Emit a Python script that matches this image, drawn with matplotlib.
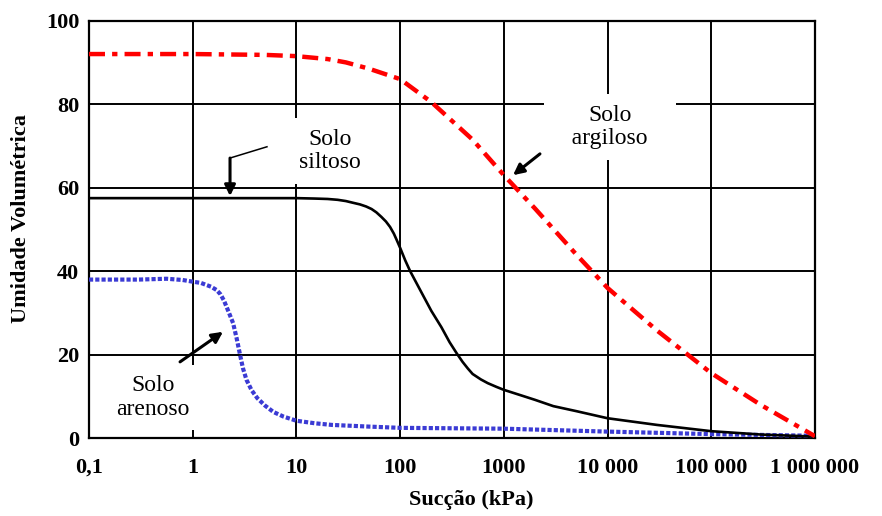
import numpy as np
import matplotlib
matplotlib.use('Agg')
import matplotlib.pyplot as plt

plt.rcParams['font.family'] = ['Liberation Serif', 'DejaVu Serif']

# curva argilosa
x_argila = [0.1, 1, 5, 10, 20, 30, 50, 100, 200, 500, 1000, 2000, 5000, 10000, 30000, 100000, 300000, 1000000]
y_argila = [92, 92, 91.8, 91.5, 90.8, 90, 88.5, 86, 80.5, 71.5, 63, 55, 44, 36, 25.8, 15.6, 8, 0.5]

# curva siltosa
x_silte = [0.1, 1, 10, 15, 20, 25, 30, 35, 41, 47, 53, 59, 66, 73, 80, 87, 93, 100, 112, 125, 160, 200,
           250, 300, 350, 400, 450, 500, 600, 700, 850, 1000, 1500, 2000, 3000, 5000, 10000, 30000,
           100000, 300000, 1000000]
y_silte = [57.5, 57.5, 57.5, 57.4, 57.3, 57.1, 56.8, 56.4, 56, 55.5, 54.9, 54.1, 53.0, 51.9, 50.6, 49.0,
           47.4, 45.6, 42.6, 40, 35, 30.5, 26.6, 23, 20.4, 18.3, 16.7, 15.4, 14.1, 13.2, 12.3, 11.6,
           10.2, 9.2, 7.7, 6.5, 4.8, 3.2, 1.7, 0.9, 0.4]

# curva arenosa
x_areia = [0.1, 0.3, 0.56, 0.8, 1, 1.2, 1.5, 1.7, 1.85, 2.0, 2.2, 2.45, 2.65, 2.86, 3.05, 3.3, 3.7,
           4.2, 5, 6, 7.5, 10, 15, 22, 50, 100, 1000, 10000, 100000, 1000000]
y_areia = [38, 38, 38.2, 37.9, 37.5, 37.2, 36.3, 35.5, 34.5, 33, 30.5, 27.6, 24, 20, 16.8, 14, 11.5,
           9.6, 7.8, 6.3, 5.2, 4.2, 3.6, 3.2, 2.8, 2.5, 2.3, 1.6, 1.0, 0.6]

xticks = [0.1, 1, 10, 100, 1000, 10000, 100000, 1000000]
xticklabels = ['0,1', '1', '10', '100', '1000', '10 000', '100 000', '1 000 000']
yticks = [0, 20, 40, 60, 80, 100]

fig = plt.figure(figsize=(8.82, 5.16), dpi=100)
ax = fig.add_axes([0.1009, 0.1506, 0.8231, 0.8094])

ax.set_xscale('log')
ax.set_xlim(0.1, 1e6)
ax.set_ylim(0, 100)

ax.grid(True, which='major', color='black', lw=1.4)
ax.set_axisbelow(True)
for s in ax.spines.values():
    s.set_linewidth(1.6)

ax.plot(x_areia, y_areia, color='#3b3bd4', lw=3.0, ls=(0, (1.0, 0.5)), zorder=3)
ax.plot(x_silte, y_silte, color='black', lw=1.9, zorder=4)
ax.plot(x_argila, y_argila, color='#ff0000', lw=3.2, ls=(0, (3.6, 1.6, 1.2, 1.6)), zorder=5)

ax.set_xticks(xticks)
ax.set_xticklabels(xticklabels)
ax.set_yticks(yticks)
ax.minorticks_off()
ax.tick_params(axis='both', length=0, labelsize=16)
ax.tick_params(axis='x', pad=14)
ax.tick_params(axis='y', pad=7)
for lab in ax.get_xticklabels() + ax.get_yticklabels():
    lab.set_fontweight('bold')

ax.set_xlabel('Sucção (kPa)', fontsize=16, fontweight='bold')
ax.xaxis.set_label_coords(0.527, -0.124)
ax.set_ylabel('Umidade Volumétrica', fontsize=16, fontweight='bold')
ax.yaxis.set_label_coords(-0.08, 0.525)

box = dict(boxstyle='square,pad=0.45', fc='white', ec='none')
ax.text(21, 68.8, 'Solo\nsiltoso', ha='center', va='center', fontsize=17,
        linespacing=1.15, bbox=box, zorder=6)
ax.text(10570, 74.5, 'Solo\n\u00a0\u00a0\u00a0argiloso\u00a0\u00a0\u00a0', ha='center', va='center',
        fontsize=17, linespacing=1.15, bbox=box, zorder=6)
ax.text(0.414, 9.8, 'Solo\narenoso', ha='center', va='center', fontsize=17,
        linespacing=1.15, bbox=box, zorder=6)

arrow = dict(arrowstyle='-|>', color='black', lw=2.2, mutation_scale=16, shrinkA=0, shrinkB=0)
ax.plot([5.2, 2.29], [69.8, 67.1], color='black', lw=1.1, zorder=7)
ax.annotate('', xy=(2.29, 58.0), xytext=(2.29, 67.1), arrowprops=arrow, zorder=7)
ax.annotate('', xy=(1227, 63.0), xytext=(2230, 68.1), arrowprops=arrow, zorder=7)
ax.annotate('', xy=(1.96, 25.5), xytext=(0.755, 18.3), arrowprops=arrow, zorder=7)

plt.savefig('out.png', dpi=100)
plt.close(fig)
